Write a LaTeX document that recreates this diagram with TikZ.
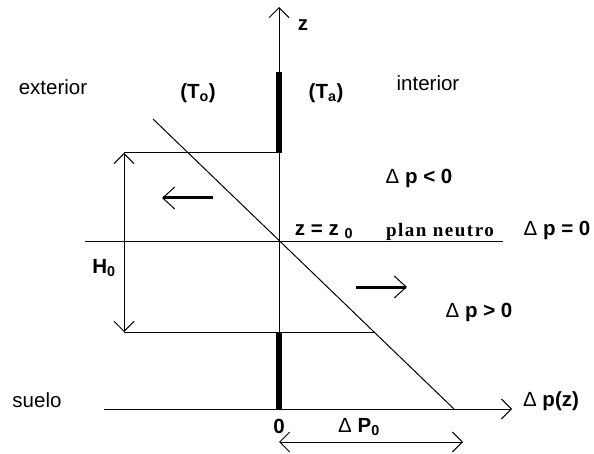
\documentclass[tikz,border=0pt]{standalone}
\usepackage{fontspec}
\setmainfont{Liberation Sans}
\newfontfamily\neutrofont[LetterSpace=8]{Liberation Serif}
\usepackage{tikz}
\usetikzlibrary{arrows.meta}

\begin{document}
\begin{tikzpicture}[x=1pt, y=-1pt, line width=1pt,
    font=\fontsize{20.5}{22}\selectfont,
    lbl/.style={inner sep=0pt, font=\fontsize{20.5}{22}\selectfont\bfseries},
    barb/.style={-{Straight Barb[length=10pt, width=20pt]}},
    dimline/.style={{Straight Barb[length=10pt, width=20pt]}-{Straight Barb[length=10pt, width=20pt]}},
    flow/.style={line width=3pt, -{Straight Barb[length=12pt, width=22pt, line width=1pt]}},
    wall/.style={line width=6pt}]
    \useasboundingbox (0,0) rectangle (594,454);
    % axes
    \coordinate (O) at (279,409);
    \coordinate (ztip) at (279,7);
    \coordinate (gl) at (104,409);
    \coordinate (gtip) at (512,409);
    \draw[barb] (O) -- (ztip);
    \draw[barb] (gl) -- (gtip);
    % wall pieces
    \coordinate (wa) at (279,72);
    \coordinate (wb) at (279,153);
    \coordinate (wc) at (279,332);
    \draw[wall] (wa) -- (wb);
    \draw[wall] (wc) -- (O);
    % pressure line and neutral plane
    \coordinate (pa) at (153,119);
    \coordinate (pb) at (454,409);
    \draw (pa) -- (pb);
    \coordinate (na) at (85,242);
    \coordinate (nb) at (503,242);
    \draw (na) -- (nb);
    % height H0
    \coordinate (ht) at (124,153);
    \coordinate (hb) at (124,332);
    \coordinate (hr) at (374,332);
    \draw (ht) -- (wb);
    \draw (hb) -- (hr);
    \draw[dimline] (hb) -- (ht);
    % flow arrows
    \coordinate (fa) at (213,198);
    \coordinate (fb) at (162,198);
    \coordinate (fc) at (356,287);
    \coordinate (fd) at (407,287);
    \draw[flow] (fa) -- (fb);
    \draw[flow] (fc) -- (fd);
    % Delta P0
    \coordinate (da) at (279,442);
    \coordinate (db) at (463,442);
    \draw[dimline] (da) -- (db);
    % texts
    \node (zlab) at (303,25) [lbl] {z};
    \node (ext) at (53,87) {exterior};
    \node (To) at (198,93) [lbl] {(T\textsubscript{o})};
    \node (Ta) at (326,93) [lbl] {(T\textsubscript{a})};
    \node (int) at (428,83) {interior};
    \node (neg) at (419,178) [lbl] {{\mdseries Δ} p < 0};
    \node (zz) at (324,232) [lbl] {z = z \textsubscript{0}};
    \node (neutro) at (440,232) [lbl, font=\fontsize{19}{21}\neutrofont\bfseries] {plan neutro};
    \node (zero) at (557,230) [lbl] {{\mdseries Δ} p = 0};
    \node (H) at (104,268) [lbl] {H\textsubscript{0}};
    \node (pos) at (479,312) [lbl] {{\mdseries Δ} p > 0};
    \node (suelo) at (37,400) {suelo};
    \node (dpz) at (551,401) [lbl] {{\mdseries Δ} p(z)};
    \node (orig) at (279,426) [lbl] {0};
    \node (dP) at (359,427) [lbl] {{\mdseries Δ} P\textsubscript{0}};
\end{tikzpicture}
\end{document}
